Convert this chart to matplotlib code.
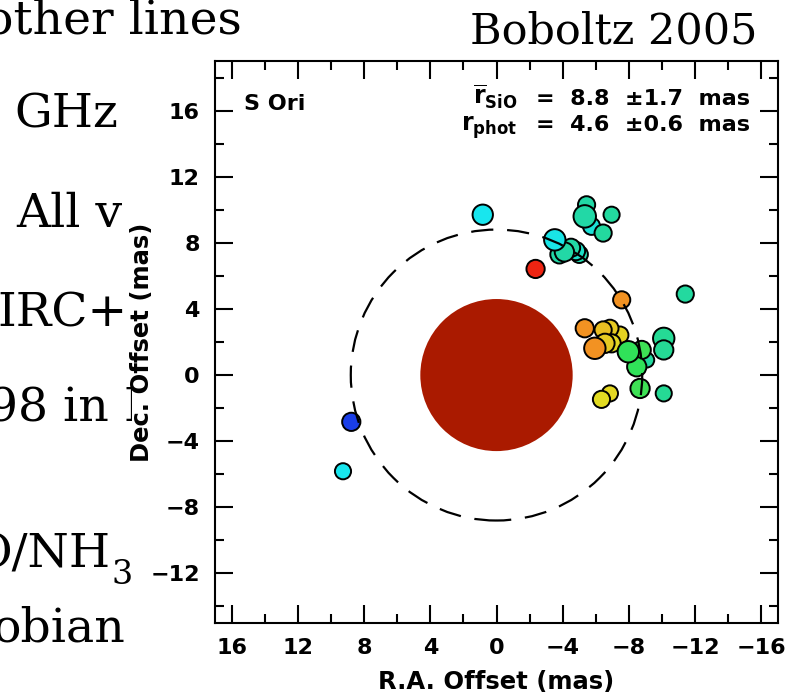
import matplotlib
matplotlib.use('Agg')
import matplotlib.pyplot as plt
from matplotlib.patches import Circle, Rectangle
from matplotlib.colors import LinearSegmentedColormap, Normalize
from matplotlib.ticker import MultipleLocator

W, H = 796, 696

# SiO maser spots: offsets (mas), spot diameter (px), LSR velocity (km/s)
ra_off = [0.83, -2.36, 8.77, 9.27,
          -3.8, -5.0, -4.8, -4.5, -4.1, -3.52,
          -5.74, -5.44, -5.33, -6.95, -6.44,
          -7.56, -11.4,
          -7.45, -6.85, -6.44, -5.33, -6.95, -6.55, -5.94,
          -9.07, -8.77, -8.47, -7.96, -10.1, -10.1,
          -8.67, -10.1, -6.85, -6.34]
dec_off = [9.70, 6.42, -2.83, -5.82,
           7.30, 7.30, 7.50, 7.70, 7.45, 8.18,
           9.00, 10.3, 9.60, 9.70, 8.59,
           4.55, 4.90,
           2.42, 2.83, 2.73, 2.83, 1.92, 1.92, 1.62,
           0.91, 1.52, 0.50, 1.41, 2.22, 1.52,
           -0.81, -1.11, -1.11, -1.47]
spot_diam = [21, 19, 19, 17,
             19, 18, 19, 19, 20, 22,
             18, 18, 23, 17, 18,
             18, 18,
             18, 18, 18, 19, 19, 20, 22,
             16, 19, 20, 22, 22, 20,
             20, 17, 17, 18]
vlsr = [10.4, 20.0, 8.0, 10.4,
        12.2, 12.0, 11.4, 12.2, 12.2, 10.6,
        11.0, 12.2, 12.2, 12.4, 12.4,
        18.0, 12.4,
        16.6, 16.8, 17.0, 18.0, 16.5, 16.8, 18.0,
        12.4, 14.2, 14.0, 14.0, 12.6, 12.6,
        14.2, 12.6, 16.5, 16.4]

r_sio, r_sio_err = 8.8, 1.7
r_phot, r_phot_err = 4.6, 0.6

vel_cmap = LinearSegmentedColormap.from_list('vel', [
    (0.0, '#1a3ee8'), (0.2, '#18e6ee'), (0.35, '#22d8a6'),
    (0.5, '#2ee25a'), (0.7, '#e2dc22'), (0.83, '#f29622'),
    (1.0, '#ee2412')])

plt.rcParams['font.family'] = 'DejaVu Sans'
plt.rcParams['font.weight'] = 'bold'
plt.rcParams['axes.labelweight'] = 'bold'
plt.rcParams['mathtext.fontset'] = 'dejavusans'

fig = plt.figure(figsize=(W / 100, H / 100), dpi=100)
fig.patch.set_facecolor('white')


def px(x, y):
    return x / W, 1 - y / H


# slide text behind the pasted figure
slide = dict(family='DejaVu Serif', fontsize=34, fontweight='normal',
             va='baseline', zorder=1)
fig.text(*px(242, 33), 'other lines', ha='right', **slide)
fig.text(*px(14, 128), 'GHz', ha='left', **slide)
fig.text(*px(16, 227), 'All v', ha='left', **slide)
fig.text(*px(-3, 325), 'IRC+1', ha='left', **slide)
fig.text(*px(-12, 422), '98 in I', ha='left', **slide)
fig.text(*px(111, 567), 'O/NH', ha='right', **slide)
fig.text(*px(111, 584), '3', ha='left', **dict(slide, fontsize=24))
fig.text(*px(125, 642), 'obian', ha='right', **slide)
fig.text(*px(757, 43), 'Boboltz 2005', ha='right',
         **dict(slide, fontsize=31, zorder=4))

fig.add_artist(Rectangle((132 / W, 0), 1, 1 - 48 / H, transform=fig.transFigure,
                         facecolor='white', edgecolor='none', zorder=2))

ax = fig.add_axes([215 / W, 73 / H, 563 / W, 562 / H])
ax.set_zorder(3)
ax.set_xlim(17, -17)
ax.set_ylim(-15, 19)

# photosphere and mean SiO ring
ax.add_patch(Circle((0, 0), r_phot, facecolor='#aa1a00', edgecolor='none', zorder=1))
ax.scatter(ra_off, dec_off, s=[(d * 0.76 - 1.3) ** 2 for d in spot_diam],
           c=vlsr, cmap=vel_cmap, norm=Normalize(8, 20),
           edgecolors='black', linewidths=1.4, zorder=2)
ax.add_patch(Circle((0, 0), r_sio, fill=False, edgecolor='black', lw=1.6,
                    linestyle=(0, (10, 6.2)), zorder=3))

ax.xaxis.set_major_locator(MultipleLocator(4))
ax.xaxis.set_minor_locator(MultipleLocator(2))
ax.yaxis.set_major_locator(MultipleLocator(4))
ax.yaxis.set_minor_locator(MultipleLocator(2))
ax.tick_params(which='both', direction='in', top=True, right=True,
               width=1.5, labelsize=16)
ax.tick_params(which='major', length=13, pad=11)
ax.tick_params(which='minor', length=6.5)
for sp in ax.spines.values():
    sp.set_linewidth(1.5)

ax.set_xlabel('R.A. Offset (mas)', fontsize=17.5)
ax.set_ylabel('Dec. Offset (mas)', fontsize=17.5)
ax.xaxis.set_label_coords(0.5, -0.084)
ax.yaxis.set_label_coords(-0.108, 0.5)

ax.text(15.27, 16.06, 'S Ori', fontsize=16)
ax.text(-1.27, 16.36, r'$\overline{\mathbf{r}}_{\mathbf{SiO}}$',
        ha='right', fontsize=17)
ax.text(-15.33, 16.36, '=  %.1f  \u00b1%.1f  mas' % (r_sio, r_sio_err),
        ha='right', fontsize=16)
ax.text(-1.27, 14.79, r'$\mathbf{r}_{\mathbf{phot}}$', ha='right', fontsize=17)
ax.text(-15.33, 14.79, '=  %.1f  \u00b1%.1f  mas' % (r_phot, r_phot_err),
        ha='right', fontsize=16)

fig.savefig('out.png', dpi=100)
